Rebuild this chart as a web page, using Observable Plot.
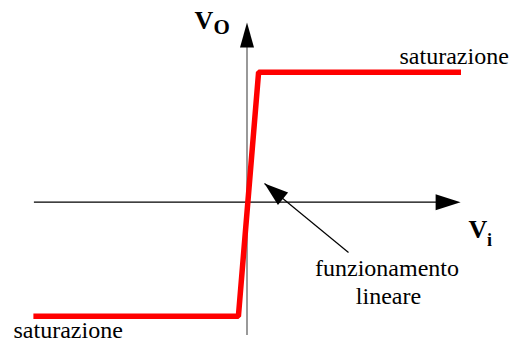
<!DOCTYPE html>
<html>
<head>
<meta charset="utf-8">
<script src="https://cdn.jsdelivr.net/npm/d3@7"></script>
<script src="https://cdn.jsdelivr.net/npm/@observablehq/plot@0.6"></script>
<style>
  html, body { margin: 0; padding: 0; background: #fff; }
  #chart svg { display: block; background: #fff; }
</style>
</head>
<body>
<div id="chart"></div>
<script>
// ---- data (chart units: Vi horizontal, Vo vertical) ----
const viDomain = [-12.325, 13.175];
const voDomain = [-7.115, 10.085];

// transfer characteristic (saturazione - funzionamento lineare - saturazione)
const transferVi = [-10.68, -0.43, 0.58, 10.7];
const transferVo = [-5.7, -5.7, 6.5, 6.5];

// axes extents
const viAxisExtent = [-10.63, 10.68];
const voAxisExtent = [-6.67, 8.99];

// pointer arrow "funzionamento lineare"
const pointerFrom = [5.075, -2.515];
const pointerTo = [0.875, 0.935];

// text labels
const labelTexts = ["saturazione", "saturazione", "funzionamento", "lineare"];
const labelVi = [7.625, -11.675, 7.0, 7.075];
const labelVo = [6.935, -6.8, -3.665, -5.065];
const labelAnchor = ["start", "start", "middle", "middle"];

const axisNames = ["V", "O", "V", "i"];
const axisNameVi = [-2.625, -1.675, 11.075, 12.0];
const axisNameVo = [8.685, 8.435, -1.765, -2.165];
const axisNameSize = [26, 21, 26, 18];

// ---- build ----
const W = 510, H = 344;
const kx = W / (viDomain[1] - viDomain[0]);
const ky = H / (voDomain[1] - voDomain[0]);

const transfer = transferVi.map((v, i) => ({vi: v, vo: transferVo[i]}));
const labels = labelTexts.map((t, i) => ({text: t, vi: labelVi[i], vo: labelVo[i], anchor: labelAnchor[i]}));
const names = axisNames.map((t, i) => ({text: t, vi: axisNameVi[i], vo: axisNameVo[i], size: axisNameSize[i]}));

function head(L, w) {
  return {
    draw(ctx) {
      ctx.moveTo(0, 0);
      ctx.lineTo(-L, -w);
      ctx.lineTo(-L, w);
      ctx.closePath();
    }
  };
}

const pointerAngle = Math.atan2(-(pointerTo[1] - pointerFrom[1]) * ky, (pointerTo[0] - pointerFrom[0]) * kx) * 180 / Math.PI;

const font = "Liberation Serif";

const plot = Plot.plot({
  width: W,
  height: H,
  margin: 0,
  x: {domain: viDomain, axis: null},
  y: {domain: voDomain, axis: null},
  style: {background: "#fff", fontFamily: font},
  marks: [
    // vertical axis (Vo)
    Plot.ruleX([0], {y1: voAxisExtent[0], y2: voAxisExtent[1] - 1.0, stroke: "#808080", strokeWidth: 1.6}),
    Plot.dot([{vi: 0, vo: voAxisExtent[1]}], {x: "vi", y: "vo", symbol: head(25, 7), rotate: -90, fill: "#000", stroke: null}),
    // horizontal axis (Vi)
    Plot.ruleY([0], {x1: viAxisExtent[0], x2: viAxisExtent[1] - 1.0, stroke: "#000", strokeWidth: 1.3}),
    Plot.dot([{vi: viAxisExtent[1], vo: 0}], {x: "vi", y: "vo", symbol: head(25, 8), rotate: 0, fill: "#000", stroke: null}),
    // transfer characteristic
    Plot.line(transfer, {x: "vi", y: "vo", stroke: "#ff0000", strokeWidth: 5.5, strokeLinejoin: "miter", strokeLinecap: "butt", curve: "linear"}),
    // pointer arrow
    Plot.link([{x1: pointerFrom[0], y1: pointerFrom[1], x2: pointerTo[0], y2: pointerTo[1]}], {x1: "x1", y1: "y1", x2: "x2", y2: "y2", stroke: "#000", strokeWidth: 1.2}),
    Plot.dot([{vi: pointerTo[0], vo: pointerTo[1]}], {x: "vi", y: "vo", symbol: head(24, 8), rotate: pointerAngle, fill: "#000", stroke: null}),
    // labels
    Plot.text(labels.filter(d => d.anchor === "start"), {x: "vi", y: "vo", text: "text", textAnchor: "start", lineAnchor: "bottom", fontFamily: font, fontSize: 24, fill: "#000"}),
    Plot.text(labels.filter(d => d.anchor === "middle"), {x: "vi", y: "vo", text: "text", textAnchor: "middle", lineAnchor: "bottom", fontFamily: font, fontSize: 24, fill: "#000"}),
    ...names.map(d => Plot.text([d], {x: "vi", y: "vo", text: "text", textAnchor: "start", lineAnchor: "bottom", fontFamily: font, fontSize: d.size, fontWeight: "bold", fill: "#000"}))
  ]
});

document.getElementById("chart").appendChild(plot);
</script>
</body>
</html>
